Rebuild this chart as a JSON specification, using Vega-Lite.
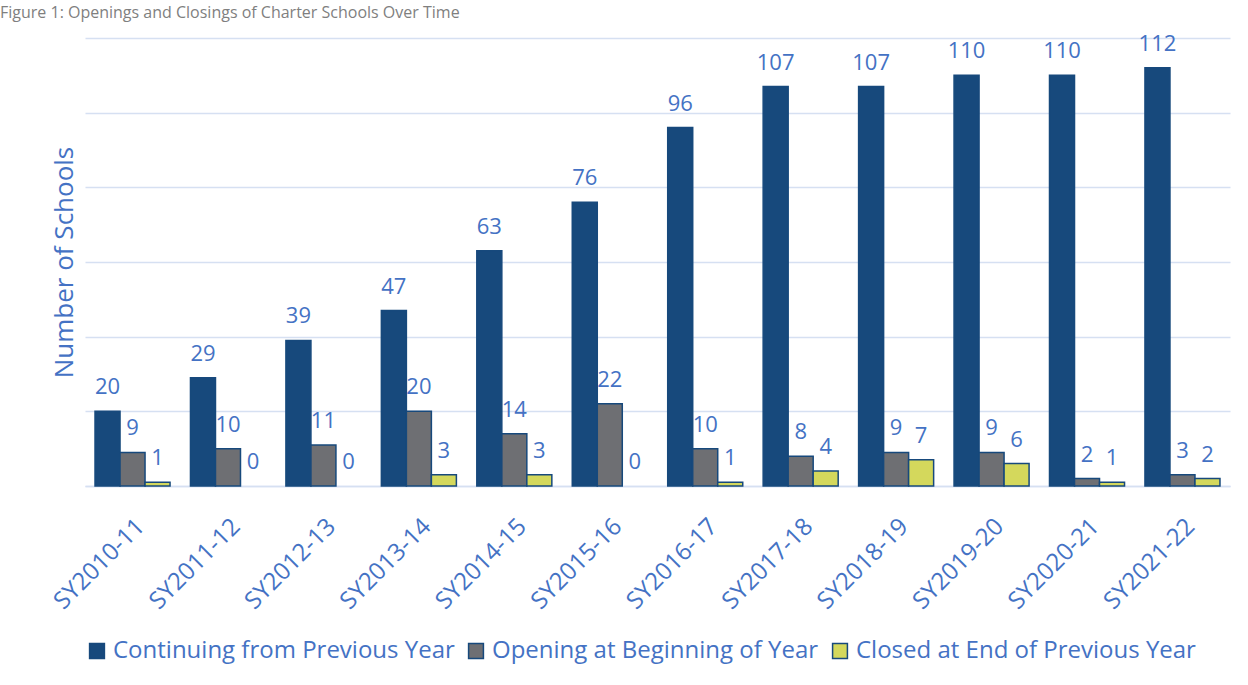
{
  "$schema": "https://vega.github.io/schema/vega-lite/v6.json",
  "width": 1145,
  "height": 448,
  "autosize": {"type": "none"},
  "padding": {"left": 85, "top": 38, "right": 18, "bottom": 199},
  "background": "white",
  "title": {
    "text": "Figure 1: Openings and Closings of Charter Schools Over Time",
    "anchor": "start",
    "frame": "group",
    "orient": "top",
    "baseline": "alphabetic",
    "offset": -1,
    "dx": -85,
    "font": "Open Sans",
    "fontSize": 16,
    "fontWeight": "normal",
    "color": "#7F7F7F"
  },
  "config": {
    "font": "Open Sans",
    "view": {"stroke": null},
    "axis": {"labelFont": "Open Sans", "titleFont": "Open Sans"}
  },
  "data": {
    "values": [
      {"year": "SY2010-11", "series": "Continuing from Previous Year", "value": 20},
      {"year": "SY2010-11", "series": "Opening at Beginning of Year", "value": 9},
      {"year": "SY2010-11", "series": "Closed at End of Previous Year", "value": 1},
      {"year": "SY2011-12", "series": "Continuing from Previous Year", "value": 29},
      {"year": "SY2011-12", "series": "Opening at Beginning of Year", "value": 10},
      {"year": "SY2011-12", "series": "Closed at End of Previous Year", "value": 0},
      {"year": "SY2012-13", "series": "Continuing from Previous Year", "value": 39},
      {"year": "SY2012-13", "series": "Opening at Beginning of Year", "value": 11},
      {"year": "SY2012-13", "series": "Closed at End of Previous Year", "value": 0},
      {"year": "SY2013-14", "series": "Continuing from Previous Year", "value": 47},
      {"year": "SY2013-14", "series": "Opening at Beginning of Year", "value": 20},
      {"year": "SY2013-14", "series": "Closed at End of Previous Year", "value": 3},
      {"year": "SY2014-15", "series": "Continuing from Previous Year", "value": 63},
      {"year": "SY2014-15", "series": "Opening at Beginning of Year", "value": 14},
      {"year": "SY2014-15", "series": "Closed at End of Previous Year", "value": 3},
      {"year": "SY2015-16", "series": "Continuing from Previous Year", "value": 76},
      {"year": "SY2015-16", "series": "Opening at Beginning of Year", "value": 22},
      {"year": "SY2015-16", "series": "Closed at End of Previous Year", "value": 0},
      {"year": "SY2016-17", "series": "Continuing from Previous Year", "value": 96},
      {"year": "SY2016-17", "series": "Opening at Beginning of Year", "value": 10},
      {"year": "SY2016-17", "series": "Closed at End of Previous Year", "value": 1},
      {"year": "SY2017-18", "series": "Continuing from Previous Year", "value": 107},
      {"year": "SY2017-18", "series": "Opening at Beginning of Year", "value": 8},
      {"year": "SY2017-18", "series": "Closed at End of Previous Year", "value": 4},
      {"year": "SY2018-19", "series": "Continuing from Previous Year", "value": 107},
      {"year": "SY2018-19", "series": "Opening at Beginning of Year", "value": 9},
      {"year": "SY2018-19", "series": "Closed at End of Previous Year", "value": 7},
      {"year": "SY2019-20", "series": "Continuing from Previous Year", "value": 110},
      {"year": "SY2019-20", "series": "Opening at Beginning of Year", "value": 9},
      {"year": "SY2019-20", "series": "Closed at End of Previous Year", "value": 6},
      {"year": "SY2020-21", "series": "Continuing from Previous Year", "value": 110},
      {"year": "SY2020-21", "series": "Opening at Beginning of Year", "value": 2},
      {"year": "SY2020-21", "series": "Closed at End of Previous Year", "value": 1},
      {"year": "SY2021-22", "series": "Continuing from Previous Year", "value": 112},
      {"year": "SY2021-22", "series": "Opening at Beginning of Year", "value": 3},
      {"year": "SY2021-22", "series": "Closed at End of Previous Year", "value": 2}
    ]
  },
  "encoding": {
    "x": {
      "field": "year",
      "type": "nominal",
      "sort": null,
      "scale": {"paddingInner": 0.214, "paddingOuter": 0.105},
      "axis": {
        "title": null,
        "labelAngle": -45,
        "labelFontSize": 24,
        "labelColor": "#4472C4",
        "labelPadding": 28,
        "ticks": false,
        "domain": true,
        "domainColor": "#D6E0F2",
        "domainWidth": 1.5
      }
    },
    "xOffset": {
      "field": "series",
      "type": "nominal",
      "sort": ["Continuing from Previous Year", "Opening at Beginning of Year", "Closed at End of Previous Year"],
      "scale": {"paddingInner": 0, "paddingOuter": 0}
    },
    "y": {
      "field": "value",
      "type": "quantitative",
      "scale": {"domain": [0, 120]},
      "axis": {
        "title": "Number of Schools",
        "titleFontSize": 26,
        "titleFontWeight": "normal",
        "titleColor": "#4472C4",
        "titlePadding": 8,
        "labels": false,
        "ticks": false,
        "domain": false,
        "values": [0, 20, 40, 60, 80, 100, 120],
        "grid": true,
        "gridColor": "#D6E0F2",
        "gridWidth": 1.5
      }
    }
  },
  "layer": [
    {
      "mark": {"type": "bar", "strokeWidth": 1.5},
      "encoding": {
        "color": {
          "field": "series",
          "type": "nominal",
          "sort": ["Continuing from Previous Year", "Opening at Beginning of Year", "Closed at End of Previous Year"],
          "scale": {
            "domain": ["Continuing from Previous Year", "Opening at Beginning of Year", "Closed at End of Previous Year"],
            "range": ["#17497C", "#6E6F73", "#D4D85C"]
          },
          "legend": {
            "title": null,
            "orient": "bottom",
            "direction": "horizontal",
            "symbolType": "square",
            "symbolSize": 220,
            "symbolStrokeColor": "#17497C",
            "symbolStrokeWidth": 1.5,
            "labelFontSize": 24,
            "labelColor": "#4472C4",
            "labelFont": "Open Sans",
            "labelLimit": 450,
            "columnPadding": 9,
            "labelOffset": 4,
            "offset": 25
          }
        },
        "stroke": {
          "condition": {"test": "datum.value > 0", "value": "#17497C"},
          "value": null
        }
      }
    },
    {
      "mark": {"type": "text", "baseline": "bottom", "dy": -12, "fontSize": 22, "color": "#4472C4", "font": "Open Sans"},
      "encoding": {
        "text": {"field": "value", "type": "quantitative"}
      }
    }
  ]
}
